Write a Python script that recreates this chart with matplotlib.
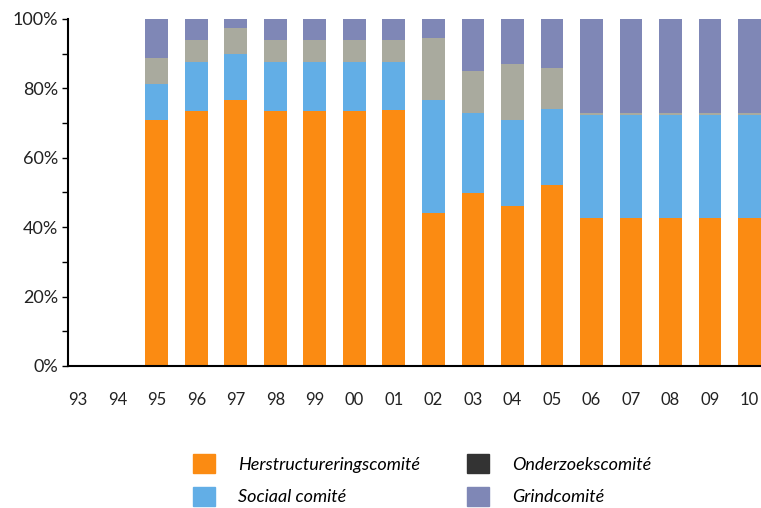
import numpy as np
import matplotlib
matplotlib.use("Agg")
import matplotlib.pyplot as plt
from matplotlib.patches import Patch

plt.rcParams["font.family"] = ["Lato", "DejaVu Sans"]

years = ["93", "94", "95", "96", "97", "98", "99", "00", "01",
         "02", "03", "04", "05", "06", "07", "08", "09", "10"]

# shares in % per committee (93 and 94 empty)
herstructurering = [0, 0, 71.0, 73.5, 76.8, 73.5, 73.5, 73.5, 73.7,
                    44.2, 49.9, 46.1, 52.2, 42.6, 42.6, 42.6, 42.6, 42.6]
sociaal = [0, 0, 10.3, 14.2, 13.0, 14.2, 14.2, 14.2, 14.0,
           32.5, 22.9, 24.8, 22.0, 29.7, 29.7, 29.7, 29.7, 29.7]
overig = [0, 0, 7.4, 6.3, 7.5, 6.3, 6.3, 6.3, 6.3,
          17.7, 12.2, 16.0, 11.6, 0.7, 0.7, 0.7, 0.7, 0.7]
onderzoek = [0] * 18
grind = [0, 0, 11.3, 6.0, 2.7, 6.0, 6.0, 6.0, 6.0,
         5.6, 15.0, 13.1, 14.2, 27.0, 27.0, 27.0, 27.0, 27.0]

c_orange = "#FB8B12"
c_blue = "#62AEE6"
c_gray = "#A9AA9E"
c_dark = "#333333"
c_grind = "#7F87B6"

fig = plt.figure(figsize=(7.61, 5.08), dpi=100)
ax = fig.add_axes([68 / 761, 142 / 508, 693 / 761, 347 / 508])

x = np.arange(len(years))
w = 0.58
bottom = np.zeros(len(years))
for vals, col in [(herstructurering, c_orange), (sociaal, c_blue),
                  (overig, c_gray), (onderzoek, c_dark), (grind, c_grind)]:
    v = np.array(vals, dtype=float)
    ax.bar(x, v, w, bottom=bottom, color=col, linewidth=0)
    bottom += v

ax.set_xlim(-0.25, 17.29)
ax.set_ylim(0, 100)
ax.set_yticks([0, 20, 40, 60, 80, 100])
ax.set_yticklabels(["0%", "20%", "40%", "60%", "80%", "100%"], fontsize=13, color="#222222")
ax.set_yticks([10, 30, 50, 70, 90], minor=True)
ax.tick_params(axis="y", which="both", direction="out", length=4, width=1, pad=3)
ax.set_xticks(x)
ax.set_xticklabels(years, fontsize=12, color="#222222")
ax.tick_params(axis="x", length=0, pad=19)

for s in ["top", "right"]:
    ax.spines[s].set_visible(False)
ax.spines["left"].set_linewidth(1.5)
ax.spines["bottom"].set_linewidth(1.5)

handles = [Patch(color=c_orange, label="Herstructureringscomité"),
           Patch(color=c_blue, label="Sociaal comité"),
           Patch(color=c_dark, label="Onderzoekscomité"),
           Patch(color=c_grind, label="Grindcomité")]
fig.legend(handles=handles, ncol=2, loc="upper left",
           bbox_to_anchor=(177 / 761, 1 - 438 / 508), frameon=False,
           prop={"style": "italic", "size": 13},
           handlelength=1.23, handleheight=1.23, handletextpad=1.25,
           columnspacing=2.6, labelspacing=0.75)

fig.savefig("out.png", dpi=100)
